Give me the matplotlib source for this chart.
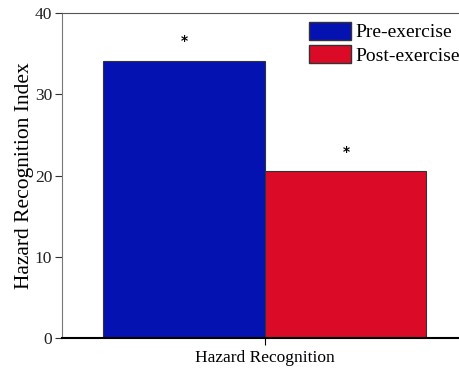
import matplotlib
matplotlib.use("Agg")
import matplotlib.pyplot as plt
from matplotlib.patches import Patch

# données
groupes = ["Pre-exercise", "Post-exercise"]
valeurs = [34.1, 20.5]
couleurs = ["#0512b2", "#db0a26"]
categorie = "Hazard Recognition"
etoiles = ["*", "*"]

plt.rcParams["font.family"] = ["Liberation Serif", "DejaVu Serif"]

fig = plt.figure(figsize=(4.59, 3.68), dpi=100)
ax = fig.add_axes([62 / 459, (368 - 338) / 368, (459 - 62) / 459, (338 - 13) / 368])

largeur = 0.4
pos = [-0.2, 0.2]
for x, v, c, s in zip(pos, valeurs, couleurs, etoiles):
    ax.bar(x, v, width=largeur, color=c, edgecolor="#333333", linewidth=0.8)
    ax.text(x + 0.002, v + 2.4, s, ha="center", va="center",
            fontsize=10, fontweight="bold", family="DejaVu Sans")

ax.set_xlim(-0.502, 0.482)
ax.set_ylim(0, 40)
ax.set_yticks([0, 10, 20, 30, 40])
ax.set_xticks([0])
ax.set_xticklabels([categorie], fontsize=12.5)
ax.set_ylabel("Hazard Recognition Index", fontsize=15.5, labelpad=1)
ax.tick_params(axis="y", labelsize=12.5, colors="#333333", length=5, pad=2, labelcolor="#222222")
ax.tick_params(axis="x", length=5, colors="black")

ax.spines["right"].set_visible(False)
ax.spines["left"].set_color("#777777")
ax.spines["top"].set_color("#555555")
ax.spines["bottom"].set_linewidth(1.5)

poignees = [Patch(facecolor=c, edgecolor="#333333", label=g) for g, c in zip(groupes, couleurs)]
ax.legend(handles=poignees, loc="upper right", fontsize=14, frameon=False,
          handlelength=2.15, handleheight=1.05, handletextpad=0.25, labelspacing=0.2,
          borderaxespad=0.0, borderpad=0.2, bbox_to_anchor=(1.012, 0.985))

fig.savefig("out.png", dpi=100)
